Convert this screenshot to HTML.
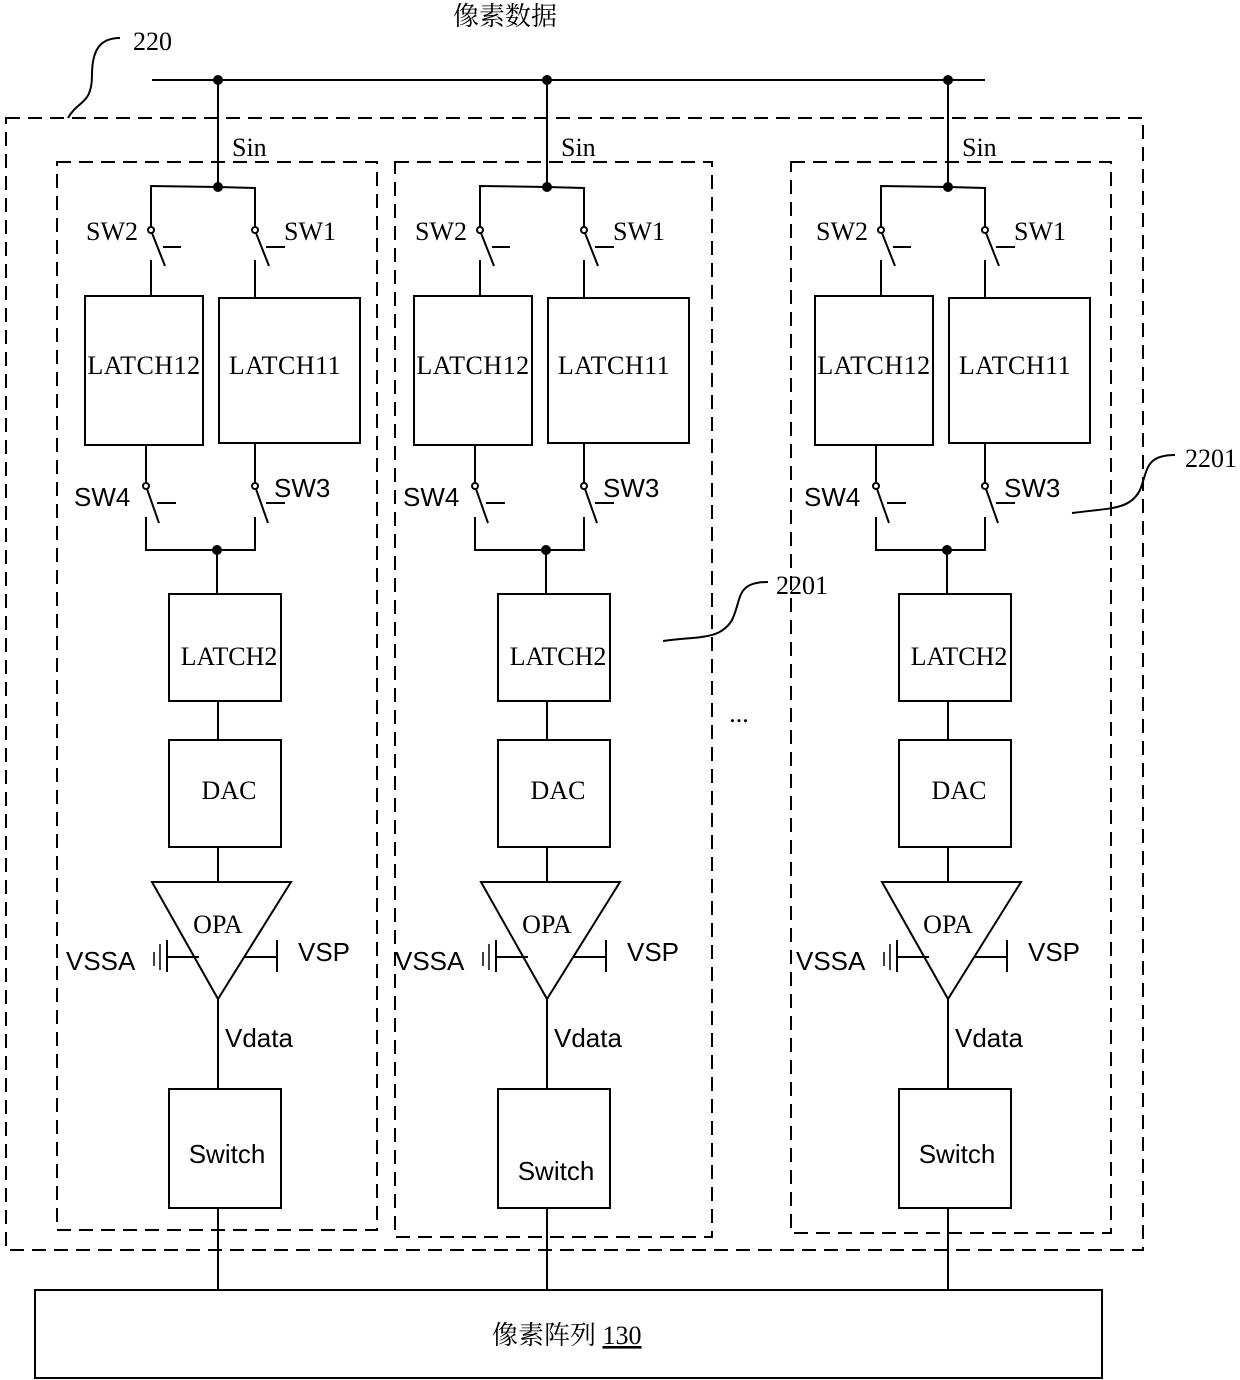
<!DOCTYPE html>
<html><head><meta charset="utf-8"><style>
html,body{margin:0;padding:0;background:#fff;}
svg{display:block;}
.s{font-family:"Liberation Serif","Noto Serif CJK SC",serif;}
.a{font-family:"Liberation Sans",sans-serif;}
</style></head><body>
<svg width="1240" height="1380" viewBox="0 0 1240 1380" xmlns="http://www.w3.org/2000/svg" fill="none" stroke="#000" stroke-width="2">
<defs>
<g id="col">
  <line x1="218" y1="80" x2="218" y2="187"/>
  <polyline points="151,296 151,260"/>
  <polyline points="151,227 151,186 218,187 255,188 255,227"/>
  <circle cx="218" cy="187" r="4" fill="#000"/>
  <circle cx="151" cy="230" r="3" fill="#fff"/>
  <line x1="152" y1="233" x2="165" y2="266"/>
  <line x1="163" y1="247" x2="181" y2="247"/>
  <circle cx="255" cy="230" r="3" fill="#fff"/>
  <line x1="256" y1="233" x2="269" y2="266"/>
  <line x1="266" y1="247" x2="285" y2="247"/>
  <line x1="255" y1="260" x2="255" y2="298"/>
  <rect x="85" y="296" width="118" height="149"/>
  <rect x="219" y="298" width="141" height="145"/>
  <line x1="146" y1="445" x2="146" y2="483"/>
  <circle cx="146" cy="486" r="3" fill="#fff"/>
  <line x1="147" y1="489" x2="159" y2="523"/>
  <line x1="157" y1="503" x2="176" y2="503"/>
  <line x1="255" y1="443" x2="255" y2="483"/>
  <circle cx="255" cy="486" r="3" fill="#fff"/>
  <line x1="256" y1="489" x2="268" y2="523"/>
  <line x1="266" y1="503" x2="285" y2="503"/>
  <polyline points="146,517 146,550 255,550 255,517"/>
  <circle cx="217" cy="550" r="4" fill="#000"/>
  <line x1="217" y1="550" x2="217" y2="594"/>
  <rect x="169" y="594" width="112" height="107"/>
  <line x1="218" y1="701" x2="218" y2="740"/>
  <rect x="169" y="740" width="112" height="107"/>
  <line x1="218" y1="847" x2="218" y2="882"/>
  <polygon points="152,882 291,882 218,999"/>
  <line x1="167" y1="957" x2="199" y2="957"/>
  <line x1="167" y1="940" x2="167" y2="972"/>
  <line x1="160" y1="944" x2="160" y2="970" stroke-width="1.5"/>
  <line x1="154" y1="952" x2="154" y2="966" stroke-width="1.5"/>
  <line x1="244" y1="957" x2="277" y2="957"/>
  <line x1="277" y1="940" x2="277" y2="972"/>
  <line x1="218" y1="999" x2="218" y2="1089"/>
  <rect x="169" y="1089" width="112" height="119"/>
  <line x1="218" y1="1208" x2="218" y2="1290"/>
  <g stroke="none" fill="#000">
    <text class="s" x="232" y="156" font-size="26">Sin</text>
    <text class="s" x="86" y="240" font-size="26">SW2</text>
    <text class="s" x="284" y="240" font-size="26">SW1</text>
    <text class="s" x="144" y="374" font-size="26" text-anchor="middle" letter-spacing="0.5">LATCH12</text>
    <text class="s" x="285" y="374" font-size="26" text-anchor="middle" letter-spacing="0.5">LATCH11</text>
    <text class="a" x="74" y="506" font-size="26">SW4</text>
    <text class="a" x="274" y="497" font-size="26">SW3</text>
    <text class="s" x="229" y="665" font-size="26" text-anchor="middle">LATCH2</text>
    <text class="s" x="229" y="799" font-size="26" text-anchor="middle">DAC</text>
    <text class="s" x="218" y="933" font-size="26" text-anchor="middle">OPA</text>
    <text class="a" x="66" y="970" font-size="26">VSSA</text>
    <text class="a" x="298" y="961" font-size="26">VSP</text>
    <text class="a" x="225" y="1047" font-size="26">Vdata</text>
  </g>
</g>
</defs>
<g stroke-dasharray="14,8">
  <rect x="6" y="118" width="1137" height="1132"/>
  <rect x="57" y="162" width="320" height="1068"/>
  <rect x="395" y="162" width="317" height="1075"/>
  <rect x="791" y="162" width="320" height="1071"/>
</g>
<line x1="152" y1="80" x2="985" y2="80"/>
<circle cx="218" cy="80" r="4" fill="#000"/>
<circle cx="547" cy="80" r="4" fill="#000"/>
<circle cx="948" cy="80" r="4" fill="#000"/>
<use href="#col"/>
<use href="#col" transform="translate(329,0)"/>
<use href="#col" transform="translate(730,0)"/>
<rect x="35" y="1290" width="1067" height="88"/>
<path d="M68,118 C78,100 92,105 92,75 C92,50 100,38 120,38"/>
<path d="M663,641 C700,636 720,640 732,620 C742,600 735,582 768,582"/>
<path d="M1072,513 C1110,508 1130,510 1140,490 C1148,470 1145,455 1175,455"/>
<g stroke="none" fill="#000">
  <text class="s" x="505" y="25" font-size="26" text-anchor="middle">像素数据</text>
  <text class="s" x="133" y="50" font-size="26">220</text>
  <text class="s" x="776" y="594" font-size="26">2201</text>
  <text class="s" x="1185" y="467" font-size="26">2201</text>
  <text class="s" x="739" y="722" font-size="26" text-anchor="middle">...</text>
  <text class="a" x="227" y="1163" font-size="26" text-anchor="middle">Switch</text>
  <text class="a" x="556" y="1180" font-size="26" text-anchor="middle">Switch</text>
  <text class="a" x="957" y="1163" font-size="26" text-anchor="middle">Switch</text>
  <text class="s" x="492" y="1344" font-size="26">像素阵列 <tspan text-decoration="underline">130</tspan></text>
</g>
</svg>
</body></html>
